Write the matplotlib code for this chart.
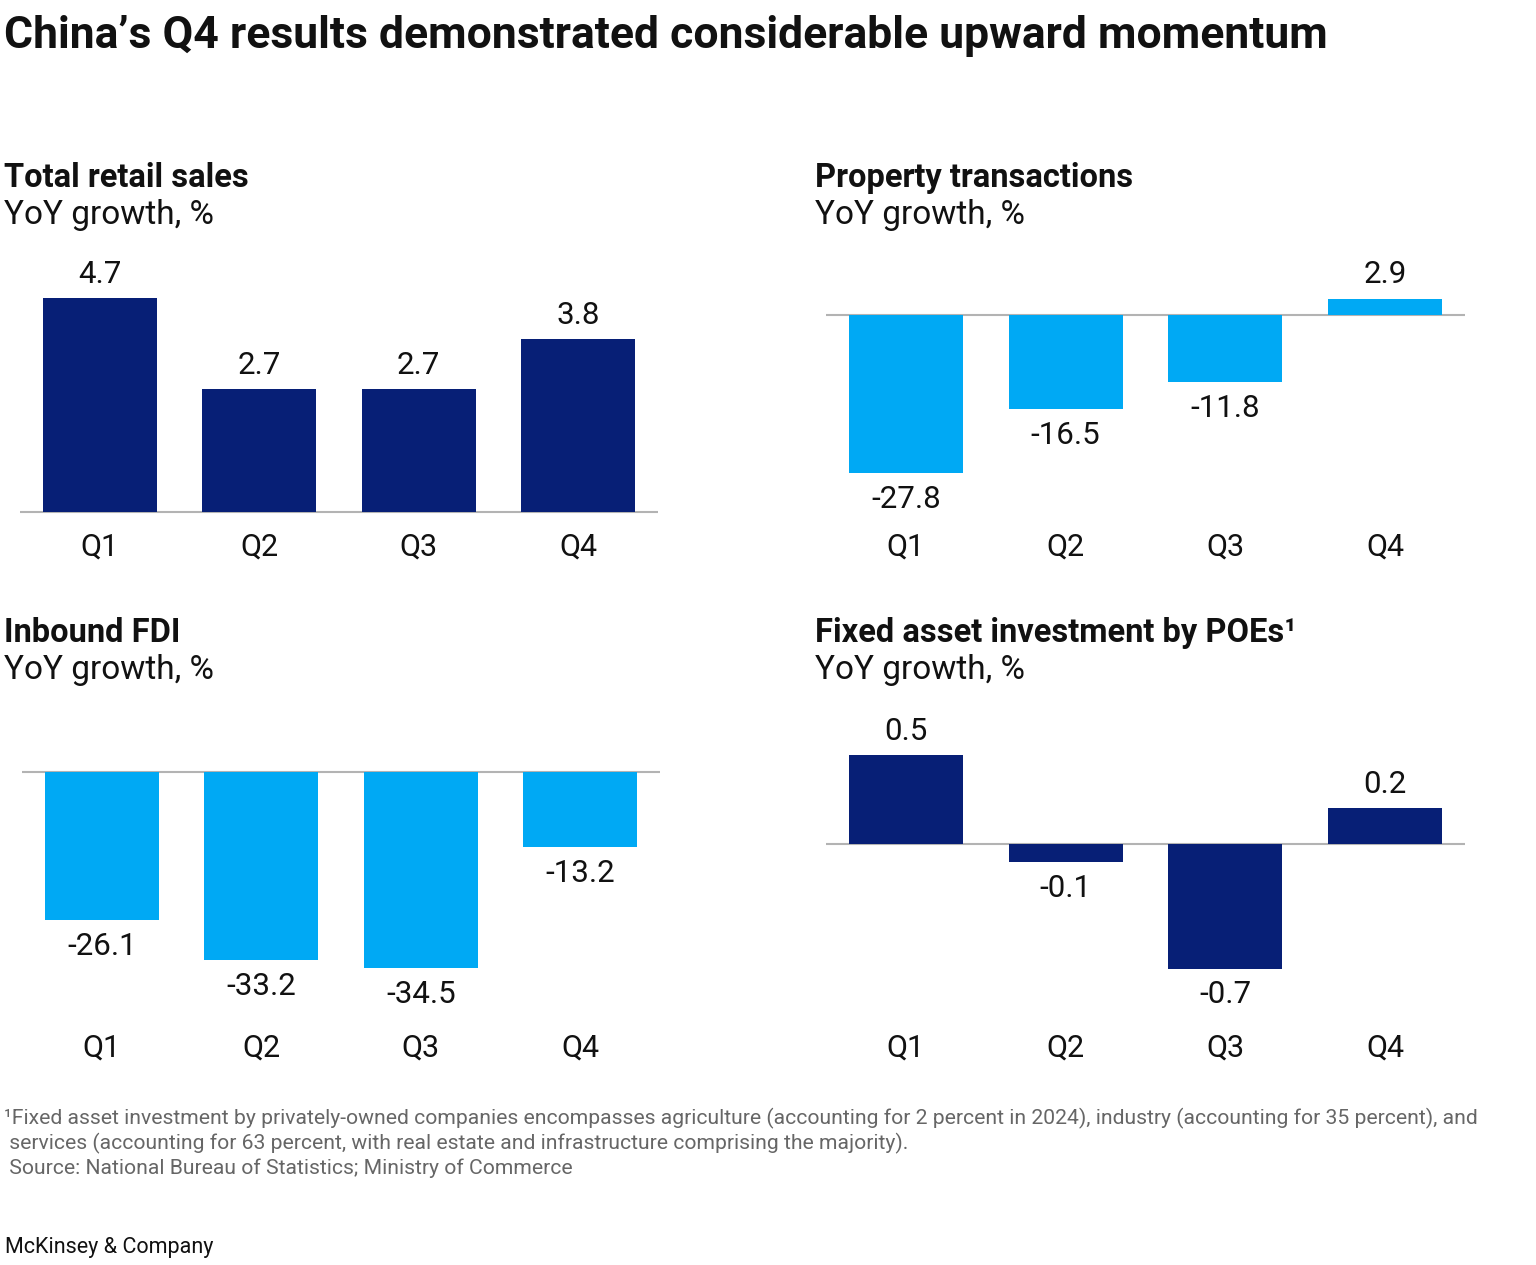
"""China Q4 momentum: four small bar panels."""
import matplotlib
matplotlib.use("Agg")
import matplotlib.pyplot as plt
import matplotlib.transforms as mtransforms

plt.rcParams["font.family"] = ["Roboto", "DejaVu Sans"]

W, H = 1536, 1265
NAVY = "#071F76"
SKY = "#00A9F4"
BASE = "#B3B3B3"
TEXT = "#111111"
MUTED = "#666666"

quarters = ["Q1", "Q2", "Q3", "Q4"]
retail_sales = [4.7, 2.7, 2.7, 3.8]
property_tx = [-27.8, -16.5, -11.8, 2.9]
inbound_fdi = [-26.1, -33.2, -34.5, -13.2]
fai_poes = [0.5, -0.1, -0.7, 0.2]

fig = plt.figure(figsize=(W / 100, H / 100), dpi=100)


def fy(py):
    return 1 - py / H


def panel(x0, x1, zero_y, scale, top, bottom, values, color, title, title_x, qlabel_y):
    ax = fig.add_axes([x0 / W, fy(bottom), (x1 - x0) / W, (bottom - top) / H])
    ax.set_xlim(-0.5, 3.5)
    ax.set_ylim(-(bottom - zero_y) / scale, (zero_y - top) / scale)
    ax.bar(range(len(values)), values, width=0.715, color=color, zorder=2)
    ax.axhline(0, color=BASE, linewidth=1.5, zorder=1)
    ax.axis("off")

    for i, v in enumerate(values):
        off = 17 if v >= 0 else -19
        ax.annotate(f"{v:.1f}", xy=(i, v), xytext=(0, off), textcoords="offset points",
                    ha="center", va="center", fontsize=22.5, color=TEXT)

    trans = mtransforms.blended_transform_factory(ax.transData, fig.transFigure)
    for i, q in enumerate(quarters):
        ax.text(i, fy(qlabel_y + 1), q, transform=trans, ha="center", va="center",
                fontsize=22, color=TEXT)

    fig.text(title_x / W, fy(top - 72), title[0],
             ha="left", va="center", fontsize=23.5, fontweight="bold", color=TEXT)
    fig.text(title_x / W, fy(top - 35), title[1],
             ha="left", va="center", fontsize=24, color=TEXT)
    return ax


panel(20, 658, 512, 45.5, 250, 530, retail_sales, NAVY,
      ("Total retail sales", "YoY growth, %"), 4, 546)
panel(826, 1465, 315, 5.68, 250, 530, property_tx, SKY,
      ("Property transactions", "YoY growth, %"), 815, 546)
panel(22, 660, 772, 5.67, 705, 1030, inbound_fdi, SKY,
      ("Inbound FDI", "YoY growth, %"), 4, 1047)
panel(826, 1465, 844, 178, 705, 1030, fai_poes, NAVY,
      ("Fixed asset investment by POEs\u00b9", "YoY growth, %"), 815, 1047)

fig.text(4 / W, fy(36), "China\u2019s Q4 results demonstrated considerable upward momentum",
         ha="left", va="center", fontsize=32, fontweight="bold", color=TEXT)

notes = [
    "\u00b9Fixed asset investment by privately-owned companies encompasses agriculture "
    "(accounting for 2 percent in 2024), industry (accounting for 35 percent), and",
    " services (accounting for 63 percent, with real estate and infrastructure comprising the majority).",
    " Source: National Bureau of Statistics; Ministry of Commerce",
]
for k, line in enumerate(notes):
    fig.text(4 / W, fy(1118 + 25 * k), line, ha="left", va="center",
             fontsize=15.2, color=MUTED)

fig.text(5 / W, fy(1248), "McKinsey & Company", ha="left", va="center",
         fontsize=15.5, color=TEXT)

fig.savefig("out.png", dpi=100)
